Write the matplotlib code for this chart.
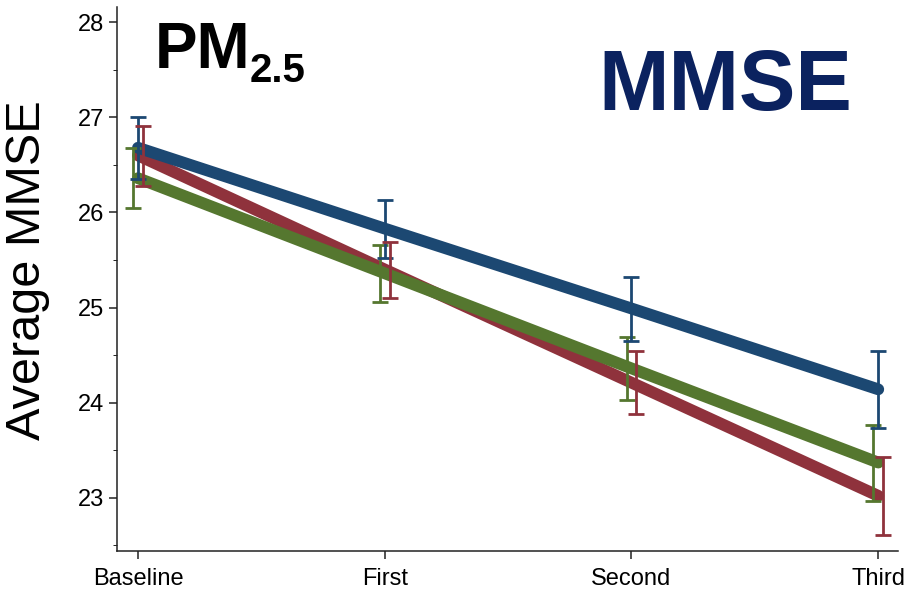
import matplotlib
matplotlib.use("Agg")
import matplotlib.pyplot as plt
import numpy as np

plt.rcParams['font.family'] = ['Liberation Sans', 'DejaVu Sans']

# waves of measurement
visits = ['Baseline', 'First', 'Second', 'Third']

# average MMSE per group (blue / green / red)
blue_mean = [26.68, 25.83, 24.99, 24.14]
blue_lo = [26.35, 25.52, 24.65, 23.73]
blue_hi = [27.00, 26.13, 25.32, 24.54]

green_mean = [26.36, 25.36, 24.36, 23.37]
green_lo = [26.05, 25.06, 24.03, 22.97]
green_hi = [26.68, 25.66, 24.69, 23.77]

red_mean = [26.60, 25.40, 24.21, 23.02]
red_lo = [26.28, 25.10, 23.88, 22.61]
red_hi = [26.91, 25.69, 24.54, 23.43]

c_blue = '#1c4872'
c_green = '#55772f'
c_red = '#8f323c'

x = np.arange(len(visits))

fig = plt.figure(figsize=(9.13, 5.99), dpi=100)
ax = fig.add_axes([117/913, 1-551/599, (898-117)/913, (551-7)/599])

# fitted lines
ax.plot(x, red_mean, color=c_red, lw=8.5, solid_capstyle='round', zorder=2)
ax.plot(x, green_mean, color=c_green, lw=8.5, solid_capstyle='round', zorder=3)
ax.plot(x, blue_mean, color=c_blue, lw=8.5, solid_capstyle='round', zorder=4)

# confidence intervals
for off, m, lo, hi, c in [(-0.02, green_mean, green_lo, green_hi, c_green),
                          (0.0, blue_mean, blue_lo, blue_hi, c_blue),
                          (0.02, red_mean, red_lo, red_hi, c_red)]:
    m = np.array(m)
    err = [m - np.array(lo), np.array(hi) - m]
    ax.errorbar(x + off, m, yerr=err, fmt='none', ecolor=c, elinewidth=2,
                capsize=5.5, capthick=2, zorder=5)

ax.set_xlim(-0.085, 3.08)
ax.set_ylim(22.44, 28.16)
ax.set_xticks(x)
ax.set_xticklabels(visits)
ax.set_yticks([23, 24, 25, 26, 27, 28])
ax.set_yticks(np.arange(22.5, 28.1, 0.5), minor=True)
ax.tick_params(axis='both', labelsize=17, color='#222222', width=1.1)
ax.tick_params(axis='both', which='major', length=6)
ax.tick_params(axis='y', which='minor', length=3)
ax.tick_params(axis='x', pad=6)
for s in ['top', 'right']:
    ax.spines[s].set_visible(False)
for s in ['left', 'bottom']:
    ax.spines[s].set_color('#222222')
    ax.spines[s].set_linewidth(1.1)

fig.text(28/913, 1-270/599, 'Average MMSE', rotation=90, fontsize=35,
         ha='center', va='center')
fig.text(155/913, 1-68/599, 'PM', fontsize=46, fontweight='bold',
         ha='left', va='baseline')
fig.text(250/913, 1-82/599, '2.5', fontsize=29, fontweight='bold',
         ha='left', va='baseline')
fig.text(598/913, 1-110/599, 'MMSE', fontsize=61, fontweight='bold',
         color='#0b225f', ha='left', va='baseline')

plt.savefig('out.png', dpi=100)
